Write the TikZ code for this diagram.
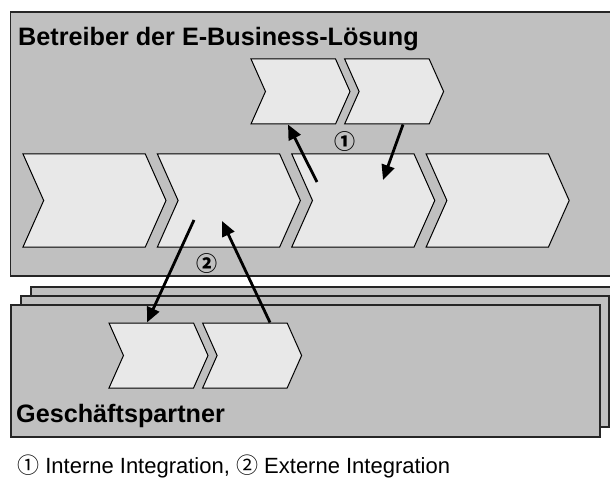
\documentclass[tikz,border=0pt]{standalone}
\usepackage{fontspec}
\setmainfont{Liberation Sans}
\newfontfamily\symfont{Noto Sans CJK SC}
\usetikzlibrary{positioning, arrows.meta, shapes.symbols}

\definecolor{panelgray}{HTML}{C0C0C0}
\definecolor{chevfill}{HTML}{E8E8E8}

\begin{document}
\begin{tikzpicture}[
    x=1pt, y=-1pt,
    panel/.style={draw=black!85, line width=1.3pt, fill=panelgray},
    chev/.style={signal, signal from=west, signal to=east, signal pointer angle=132, draw=black, line width=1pt, fill=chevfill, inner sep=0pt, minimum width=143pt, minimum height=93pt},
    smallchev/.style={chev, minimum width=99pt, minimum height=65pt},
    arrow/.style={-{Triangle[length=15pt, width=13pt]}, line width=2.8pt},
    heading/.style={font=\bfseries\fontsize{25.2}{28}\selectfont, anchor=base west, inner sep=0pt},
    num/.style={font=\symfont\bfseries\fontsize{21}{22}\selectfont, inner sep=0pt},
]

\clip (0,0) rectangle (610,481);
\fill[white] (0,0) rectangle (610,481);

% Betreiber
\draw[panel] (10.5,12) rectangle (620,276);
\node[heading] (betreiber) at (18,46) {Betreiber der E-Business-Lösung};

\node[chev] (c1) at (94.5,200.5) {};
\node[chev, right=11pt of c1] (c2) {};
\node[chev, right=11pt of c2] (c3) {};
\node[chev, right=11pt of c3] (c4) {};

\node[smallchev] (i1) at (300.5,91.5) {};
\node[smallchev, right=8pt of i1] (i2) {};

% Geschaeftspartner
\draw[panel] (31,287) rectangle (620,418);
\draw[panel] (21,296) rectangle (609,427);
\draw[panel] (11,305) rectangle (600,437);
\node[heading] (partner) at (16,422) {Geschäftspartner};

\node[smallchev] (e1) at (158.5,355.5) {};
\node[smallchev, right=8pt of e1] (e2) {};

% interne Integration
\coordinate (u1) at (317,182);
\coordinate (u2) at (383,180);
\draw[arrow] (u1) -- (i1.south -| 288,0);
\draw[arrow] (i2.south -| 403,0) -- (u2);
\node[num] (n1) at (345,142) {①};

% externe Integration
\coordinate (v1) at (194,220);
\coordinate (v2) at (222,221);
\draw[arrow] (v1) -- (e1.north -| 147,0);
\draw[arrow] (e2.north -| 270,0) -- (v2);
\node[num] (n2) at (207,264) {②};

\node[anchor=base west, inner sep=0pt, font=\fontsize{22}{24}\selectfont] (legende) at (17,473)
  {{\symfont ①} Interne Integration, {\symfont ②} Externe Integration};

\end{tikzpicture}
\end{document}
